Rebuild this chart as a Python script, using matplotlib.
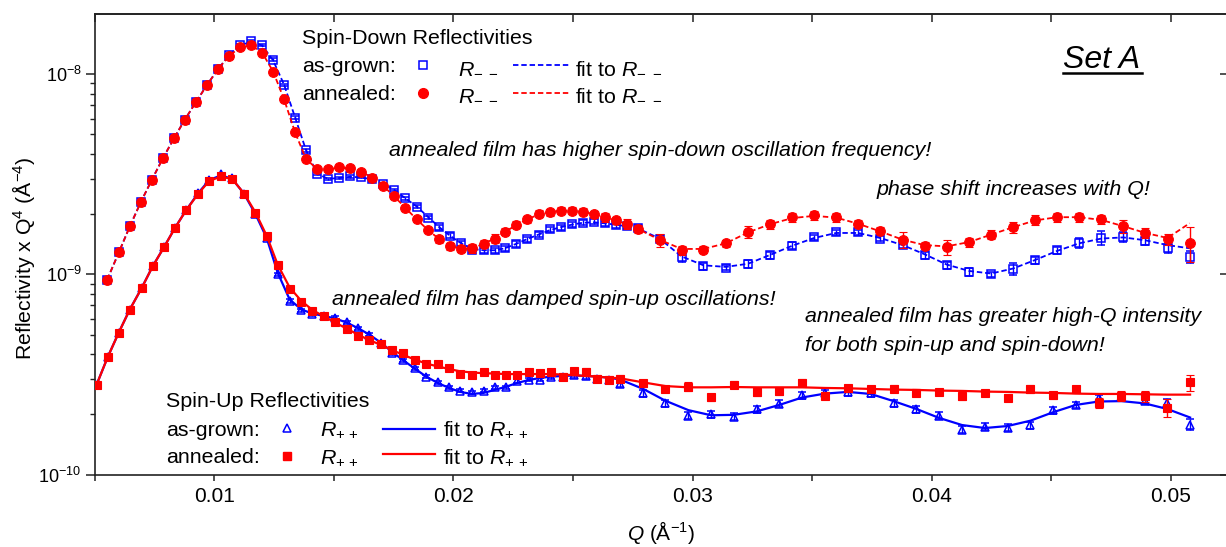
import numpy as np
import matplotlib.pyplot as plt
from matplotlib.lines import Line2D
from matplotlib.ticker import MultipleLocator, FixedLocator, NullLocator, NullFormatter, FormatStrFormatter

plt.rcParams['font.family'] = 'Liberation Sans'
plt.rcParams['mathtext.fontset'] = 'custom'
plt.rcParams['mathtext.rm'] = 'Liberation Sans'
plt.rcParams['mathtext.it'] = 'Liberation Sans:italic'
plt.rcParams['mathtext.default'] = 'regular'

# spin-down (R--) data, Q in 1/A, reflectivity*Q^4 in units of 1e-10 A^-4
q_dn = [0.00552, 0.00601, 0.00647, 0.00693, 0.00739, 0.00785, 0.00831, 0.00877, 0.00923, 0.00969,
        0.01015, 0.01061, 0.01108, 0.01154, 0.01200, 0.01246, 0.01292, 0.01338, 0.01384, 0.01430,
        0.01476, 0.01523, 0.01568, 0.01615, 0.01661, 0.01707, 0.01753, 0.01799, 0.01847, 0.01895,
        0.01941, 0.01986, 0.02032, 0.02079, 0.02126, 0.02172, 0.02216, 0.02262, 0.02308, 0.02356,
        0.02402, 0.02448, 0.02494, 0.02540, 0.02586, 0.02632, 0.02678, 0.02724, 0.02770,
        0.02862, 0.02954, 0.03046, 0.03140, 0.03232, 0.03324, 0.03417, 0.03509, 0.03601, 0.03693,
        0.03785, 0.03879, 0.03971, 0.04063, 0.04157, 0.04249, 0.04341, 0.04433, 0.04525, 0.04618,
        0.04710, 0.04802, 0.04894, 0.04987, 0.05079]

dn_grown = [9.41, 12.9, 17.4, 23.0, 29.7, 38.0, 47.7, 59.3, 72.4, 88.1,
            105.6, 124, 139, 146, 140, 118, 88.4, 60.7, 41.6, 31.8,
            29.9, 30.3, 30.9, 30.6, 29.8, 28.3, 26.4, 24.0, 21.8, 19.2,
            17.2, 15.6, 14.3, 13.3, 13.2, 13.2, 13.5, 14.2, 15.0, 15.8,
            16.8, 17.2, 17.8, 18.1, 18.3, 18.0, 17.6, 17.4, 17.1,
            15.1, 12.2, 11.0, 10.8, 11.3, 12.5, 13.9, 15.3, 16.2, 16.2,
            15.1, 14.0, 12.5, 11.1, 10.3, 10.0, 10.7, 11.8, 13.2, 14.4,
            15.2, 15.4, 14.7, 13.5, 12.2]
dn_grown_err = [0.015, 0.015, 0.015, 0.015, 0.015, 0.015, 0.015, 0.015, 0.015, 0.015,
                0.015, 0.015, 0.015, 0.015, 0.015, 0.015, 0.015, 0.015, 0.015, 0.015,
                0.015, 0.015, 0.015, 0.015, 0.015, 0.015, 0.015, 0.015, 0.015, 0.015,
                0.03, 0.03, 0.03, 0.03, 0.03, 0.03, 0.03, 0.03, 0.03, 0.03,
                0.03, 0.03, 0.03, 0.03, 0.03, 0.03, 0.03, 0.03, 0.03,
                0.04, 0.05, 0.04, 0.03, 0.05, 0.04, 0.04, 0.03, 0.03, 0.03,
                0.03, 0.03, 0.04, 0.04, 0.05, 0.03, 0.07, 0.04, 0.04, 0.06,
                0.08, 0.06, 0.05, 0.05, 0.07]
dn_grown_fit = [9.41, 12.9, 17.4, 23.0, 29.7, 38.0, 47.7, 59.3, 72.4, 88.1,
                105.6, 124, 139, 145, 139, 117, 88.4, 60.7, 41.6, 31.8,
                30.0, 30.3, 30.7, 30.5, 29.8, 28.3, 26.4, 24.0, 21.8, 19.3,
                17.2, 15.6, 14.3, 13.4, 13.2, 13.2, 13.5, 14.2, 15.0, 15.8,
                16.6, 17.2, 17.7, 18.1, 18.2, 18.0, 17.7, 17.4, 17.0,
                15.1, 12.3, 11.1, 10.9, 11.3, 12.5, 13.9, 15.2, 16.1, 16.1,
                15.2, 14.0, 12.6, 11.2, 10.4, 10.1, 10.7, 11.8, 13.1, 14.3,
                15.1, 15.3, 14.8, 14.0, 13.5]

dn_annealed = [9.41, 12.9, 17.4, 23.0, 29.7, 38.0, 47.7, 59.3, 72.4, 88.1,
               105.6, 123, 137, 140, 128, 103, 74.7, 51.1, 37.6, 33.4,
               33.5, 34.2, 34.0, 32.5, 30.4, 27.5, 24.5, 21.5, 18.8, 16.6,
               15.0, 13.8, 13.4, 13.5, 14.2, 15.1, 16.3, 17.7, 18.8, 20.1,
               20.5, 20.8, 20.8, 20.6, 20.0, 19.3, 18.6, 17.9, 16.9,
               14.8, 13.2, 13.3, 14.3, 16.3, 17.8, 19.3, 19.7, 19.3, 17.9,
               16.5, 14.9, 13.9, 13.7, 14.5, 15.8, 17.2, 18.7, 19.3, 19.3,
               18.8, 17.4, 16.1, 15.0, 14.4]
dn_annealed_err = [0.015, 0.015, 0.015, 0.015, 0.015, 0.015, 0.015, 0.015, 0.015, 0.015,
                   0.015, 0.015, 0.015, 0.015, 0.015, 0.015, 0.015, 0.015, 0.015, 0.015,
                   0.015, 0.015, 0.015, 0.015, 0.015, 0.015, 0.015, 0.015, 0.015, 0.015,
                   0.04, 0.04, 0.04, 0.05, 0.04, 0.05, 0.04, 0.04, 0.04, 0.04,
                   0.04, 0.04, 0.04, 0.04, 0.04, 0.05, 0.04, 0.06, 0.05,
                   0.07, 0.05, 0.04, 0.04, 0.07, 0.05, 0.05, 0.05, 0.05, 0.04,
                   0.04, 0.09, 0.04, 0.09, 0.05, 0.05, 0.06, 0.06, 0.05, 0.05,
                   0.05, 0.08, 0.06, 0.06, 0.20]
dn_annealed_fit = [9.41, 12.9, 17.4, 23.0, 29.7, 38.0, 47.7, 59.3, 72.4, 88.1,
                   105.6, 123, 136, 139, 128, 103, 74.7, 51.1, 37.6, 33.6,
                   33.6, 34.0, 33.9, 32.5, 30.4, 27.6, 24.5, 21.5, 18.8, 16.6,
                   15.0, 13.9, 13.4, 13.5, 14.2, 15.1, 16.3, 17.6, 18.8, 19.9,
                   20.5, 20.8, 20.8, 20.6, 20.0, 19.3, 18.6, 17.8, 16.9,
                   14.9, 13.4, 13.4, 14.3, 16.2, 17.8, 19.1, 19.6, 19.2, 17.9,
                   16.4, 14.9, 14.0, 13.8, 14.5, 15.8, 17.2, 18.6, 19.3, 19.3,
                   18.7, 17.4, 16.1, 15.2, 18.0]

# spin-up (R++) data
q_up = [0.00508, 0.00554, 0.00600, 0.00646, 0.00696, 0.00742, 0.00790, 0.00836, 0.00882, 0.00933,
        0.00979, 0.01028, 0.01075, 0.01124, 0.01172, 0.01219, 0.01265, 0.01315, 0.01364, 0.01410,
        0.01458, 0.01505, 0.01553, 0.01600, 0.01648, 0.01696, 0.01744, 0.01791, 0.01838, 0.01886,
        0.01935, 0.01982, 0.02029, 0.02077, 0.02126, 0.02172, 0.02220, 0.02267, 0.02315, 0.02362,
        0.02410, 0.02458, 0.02506, 0.02554, 0.02601, 0.02649, 0.02696,
        0.02794, 0.02887, 0.02983, 0.03078, 0.03172, 0.03268, 0.03363, 0.03459, 0.03554, 0.03650,
        0.03745, 0.03841, 0.03936, 0.04032, 0.04127, 0.04223, 0.04318, 0.04413, 0.04508, 0.04603,
        0.04699, 0.04794, 0.04891, 0.04985, 0.05081]

up_grown = [2.82, 3.86, 5.11, 6.66, 8.54, 10.96, 13.7, 17.1, 20.9, 25.6,
            29.7, 31.6, 30.2, 25.3, 20.0, 15.2, 10.0, 7.35, 6.61, 6.36,
            6.21, 6.06, 5.77, 5.37, 5.00, 4.57, 4.06, 3.72, 3.40, 3.09,
            2.89, 2.73, 2.63, 2.58, 2.63, 2.73, 2.73, 2.93, 2.98, 2.98,
            3.09, 3.09, 3.14, 3.11, 3.00, 2.98, 2.84,
            2.55, 2.27, 1.97, 2.01, 1.95, 2.12, 2.26, 2.50, 2.55, 2.58,
            2.55, 2.27, 2.12, 1.97, 1.68, 1.74, 1.72, 1.77, 2.10, 2.23,
            2.41, 2.43, 2.34, 2.27, 1.78]
up_grown_err = [0.02, 0.02, 0.02, 0.02, 0.02, 0.02, 0.02, 0.02, 0.02, 0.02,
                0.02, 0.02, 0.02, 0.02, 0.02, 0.02, 0.02, 0.02, 0.02, 0.02,
                0.02, 0.02, 0.02, 0.02, 0.02, 0.02, 0.02, 0.02, 0.02, 0.02,
                0.02, 0.02, 0.02, 0.02, 0.02, 0.02, 0.02, 0.02, 0.02, 0.02,
                0.03, 0.03, 0.03, 0.03, 0.03, 0.03, 0.03,
                0.04, 0.04, 0.04, 0.04, 0.04, 0.04, 0.04, 0.04, 0.04, 0.04,
                0.04, 0.04, 0.04, 0.04, 0.04, 0.04, 0.04, 0.04, 0.04, 0.04,
                0.04, 0.04, 0.04, 0.05, 0.06]
up_grown_fit = [2.82, 3.86, 5.11, 6.66, 8.54, 10.96, 13.7, 17.1, 20.9, 25.5,
                29.6, 31.2, 30.0, 25.3, 20.0, 15.2, 10.2, 7.50, 6.68, 6.38,
                6.20, 6.03, 5.75, 5.40, 5.01, 4.57, 4.10, 3.72, 3.39, 3.09,
                2.87, 2.71, 2.59, 2.53, 2.56, 2.65, 2.75, 2.87, 2.97, 3.04,
                3.09, 3.11, 3.13, 3.11, 3.09, 3.05, 2.99,
                2.68, 2.34, 2.10, 1.98, 1.99, 2.07, 2.23, 2.43, 2.54, 2.59,
                2.53, 2.33, 2.13, 1.92, 1.77, 1.71, 1.75, 1.86, 2.05, 2.23,
                2.32, 2.33, 2.27, 2.13, 1.93]

up_annealed = [2.82, 3.86, 5.11, 6.66, 8.54, 10.96, 13.7, 17.1, 20.9, 25.3,
               29.3, 30.9, 29.9, 25.3, 20.3, 15.5, 11.1, 8.48, 7.30, 6.56,
               6.18, 5.80, 5.35, 4.95, 4.70, 4.47, 4.20, 4.04, 3.74, 3.55,
               3.55, 3.42, 3.19, 3.13, 3.27, 3.15, 3.15, 3.16, 3.24, 3.21,
               3.24, 3.09, 3.28, 3.26, 3.01, 2.98, 3.02,
               2.87, 2.68, 2.75, 2.43, 2.82, 2.59, 2.61, 2.88, 2.48, 2.71,
               2.68, 2.69, 2.57, 2.59, 2.46, 2.56, 2.42, 2.68, 2.50, 2.68,
               2.28, 2.48, 2.46, 2.16, 2.89]
up_annealed_err = [0.02, 0.02, 0.02, 0.02, 0.02, 0.02, 0.02, 0.02, 0.02, 0.02,
                   0.02, 0.02, 0.02, 0.02, 0.02, 0.02, 0.02, 0.02, 0.02, 0.02,
                   0.02, 0.02, 0.02, 0.02, 0.02, 0.02, 0.02, 0.02, 0.02, 0.02,
                   0.02, 0.02, 0.02, 0.02, 0.02, 0.02, 0.02, 0.02, 0.02, 0.02,
                   0.04, 0.04, 0.04, 0.04, 0.04, 0.04, 0.04,
                   0.04, 0.04, 0.05, 0.04, 0.04, 0.05, 0.04, 0.04, 0.04, 0.04,
                   0.04, 0.04, 0.04, 0.04, 0.04, 0.04, 0.04, 0.05, 0.04, 0.04,
                   0.06, 0.06, 0.06, 0.10, 0.09]
up_annealed_fit = [2.82, 3.86, 5.11, 6.66, 8.54, 10.96, 13.7, 17.1, 20.9, 25.3,
                   29.3, 30.8, 29.9, 25.4, 20.4, 15.6, 11.2, 8.61, 7.37, 6.65,
                   6.17, 5.75, 5.37, 5.01, 4.70, 4.45, 4.19, 3.96, 3.76, 3.59,
                   3.47, 3.37, 3.28, 3.24, 3.21, 3.20, 3.18, 3.18, 3.18, 3.18,
                   3.18, 3.16, 3.14, 3.11, 3.09, 3.05, 3.03,
                   2.89, 2.77, 2.73, 2.73, 2.74, 2.73, 2.73, 2.73, 2.71, 2.70,
                   2.68, 2.66, 2.65, 2.63, 2.62, 2.60, 2.59, 2.57, 2.56, 2.54,
                   2.53, 2.53, 2.52, 2.51, 2.51]

x_ticks = [0.01, 0.02, 0.03, 0.04, 0.05]

BLUE = '#0000FF'
RED = '#FF0000'
INK = '#222222'
W, H = 1226, 547
UNIT = 1e-10


def scaled(vals):
    return np.array(vals) * UNIT


def fpos(px, py):
    # pixel position -> figure fraction
    return px / W, 1 - py / H


fig = plt.figure(figsize=(W / 100, H / 100), dpi=100)
ax_l, ax_r, ax_t, ax_b = 94.75, 1227.0, 14.0, 474.7
ax = fig.add_axes([ax_l / W, 1 - ax_b / H, (ax_r - ax_l) / W, (ax_b - ax_t) / H])
ax.set_yscale('log')

dash = (0, (3.0, 1.6))
eb = dict(elinewidth=1.0, capsize=2.6, capthick=1.0, linestyle='none')

# spin-up
ax.plot(q_up, scaled(up_grown_fit), color=BLUE, lw=1.6, zorder=3)
r = scaled(up_grown)
ax.errorbar(q_up, r, yerr=r * np.array(up_grown_err), fmt='^', ms=6.2, mfc='none',
            mec=BLUE, mew=1.1, ecolor=BLUE, zorder=4, **eb)
ax.plot(q_up, scaled(up_annealed_fit), color=RED, lw=1.6, zorder=5)
r = scaled(up_annealed)
ax.errorbar(q_up, r, yerr=r * np.array(up_annealed_err), fmt='s', ms=6.0, mfc=RED,
            mec=RED, mew=0.8, ecolor=RED, zorder=6, **eb)

# spin-down
ax.plot(q_dn, scaled(dn_grown_fit), color=BLUE, lw=1.3, ls=dash, zorder=3)
r = scaled(dn_grown)
ax.errorbar(q_dn, r, yerr=r * np.array(dn_grown_err), fmt='s', ms=5.6, mfc='none',
            mec=BLUE, mew=1.1, ecolor=BLUE, zorder=4, **eb)
ax.plot(q_dn, scaled(dn_annealed_fit), color=RED, lw=1.3, ls=dash, zorder=5)
r = scaled(dn_annealed)
ax.errorbar(q_dn, r, yerr=r * np.array(dn_annealed_err), fmt='o', ms=7.0, mfc=RED,
            mec=RED, mew=0.8, ecolor=RED, zorder=6, **eb)

ax.set_xlim(0.005, 0.005 + (ax_r - ax_l) / 23910)
ax.set_ylim(1e-10, 10 ** -7.7)

for s in ax.spines.values():
    s.set_linewidth(1.2)
    s.set_color(INK)

ax.xaxis.set_major_locator(FixedLocator(x_ticks))
ax.xaxis.set_minor_locator(MultipleLocator(0.005))
ax.xaxis.set_major_formatter(FormatStrFormatter('%g'))
ax.tick_params(axis='x', which='major', direction='out', length=4.5, width=1.1,
               labelsize=15, pad=4, color=INK)
ax.tick_params(axis='x', which='minor', direction='out', length=4.0, width=1.1, color=INK)
ax.tick_params(axis='y', which='major', direction='out', length=6.5, width=1.1,
               labelsize=13, pad=3, color=INK)
ax.tick_params(axis='y', which='minor', direction='out', length=3.8, width=1.0, color=INK)
ax.yaxis.set_minor_formatter(NullFormatter())

top = ax.secondary_xaxis('top')
top.xaxis.set_major_locator(MultipleLocator(0.005))
top.xaxis.set_minor_locator(NullLocator())
top.xaxis.set_major_formatter(NullFormatter())
top.tick_params(direction='in', length=6, width=1.1, color=INK)
top.spines['top'].set_linewidth(1.2)
top.spines['top'].set_color(INK)

right = ax.secondary_yaxis('right')
right.yaxis.set_major_locator(FixedLocator([1e-10, 1e-9, 1e-8]))
right.yaxis.set_minor_locator(NullLocator())
right.yaxis.set_major_formatter(NullFormatter())
right.tick_params(direction='in', length=5, width=1.1, color=INK)

ax.set_xlabel(r'$\mathit{Q}$ (Å$^{-1}$)', fontsize=15, labelpad=10)
ax.set_ylabel(r'Reflectivity x Q$^4$ (Å$^{-4}$)', fontsize=15.3)
ax.yaxis.set_label_coords(-0.051, 0.469)


def ftext(px, py, s, **kw):
    x, y = fpos(px, py)
    fig.text(x, y, s, va='baseline', ha=kw.pop('ha', 'left'), **kw)


def key_line(x1, x2, py, **kw):
    a, y = fpos(x1, py)
    b, _ = fpos(x2, py)
    fig.add_artist(Line2D([a, b], [y, y], **kw))


def key_marker(px, py, **kw):
    x, y = fpos(px, py)
    fig.add_artist(Line2D([x], [y], ls='none', **kw))


LEG = 15.4
R_dn = r'$\mathit{R}_{-\ -}$'
R_up = r'$\mathit{R}_{+\,+}$'

# spin-down key
ftext(302, 44, 'Spin-Down Reflectivities', fontsize=LEG)
ftext(302, 72.5, 'as-grown:', fontsize=LEG)
ftext(302, 100, 'annealed:', fontsize=LEG)
key_marker(423.3, 65.3, marker='s', ms=5.6, mfc='none', mec=BLUE, mew=1.1)
key_marker(423.3, 92.7, marker='o', ms=7.0, mfc=RED, mec=RED)
ftext(457.7, 73, R_dn, fontsize=LEG)
ftext(457.7, 100.5, R_dn, fontsize=LEG)
key_line(513, 570, 65.3, color=BLUE, lw=1.3, ls=dash)
key_line(513, 570, 92.7, color=RED, lw=1.3, ls=dash)
ftext(575, 73, 'fit to ' + R_dn, fontsize=LEG)
ftext(575, 100.5, 'fit to ' + R_dn, fontsize=LEG)

# spin-up key
ftext(166, 406.7, 'Spin-Up Reflectivities', fontsize=LEG)
ftext(166, 435.7, 'as-grown:', fontsize=LEG)
ftext(166, 463.3, 'annealed:', fontsize=LEG)
key_marker(287.3, 428.3, marker='^', ms=6.2, mfc='none', mec=BLUE, mew=1.1)
key_marker(287.3, 455.7, marker='s', ms=6.0, mfc=RED, mec=RED)
ftext(320, 435.7, R_up, fontsize=LEG)
ftext(320, 463.3, R_up, fontsize=LEG)
key_line(383, 435, 429, color=BLUE, lw=1.6)
key_line(383, 435, 454.3, color=RED, lw=1.6)
ftext(443.3, 435.7, 'fit to ' + R_up, fontsize=LEG)
ftext(443.3, 463.3, 'fit to ' + R_up, fontsize=LEG)

# annotations
NOTE = 15.4
ftext(389.3, 156, 'annealed film has higher spin-down oscillation frequency!', fontsize=NOTE, style='italic')
ftext(876.7, 195, 'phase shift increases with Q!', fontsize=NOTE, style='italic')
ftext(331.7, 305, 'annealed film has damped spin-up oscillations!', fontsize=NOTE, style='italic')
ftext(805, 321.7, 'annealed film has greater high-Q intensity', fontsize=NOTE, style='italic')
ftext(805, 350.7, 'for both spin-up and spin-down!', fontsize=NOTE, style='italic')

ftext(1063, 68.3, 'Set A', fontsize=23, style='italic')
key_line(1063, 1142, 72.5, color='black', lw=1.8)

fig.savefig('out.png', dpi=100)
